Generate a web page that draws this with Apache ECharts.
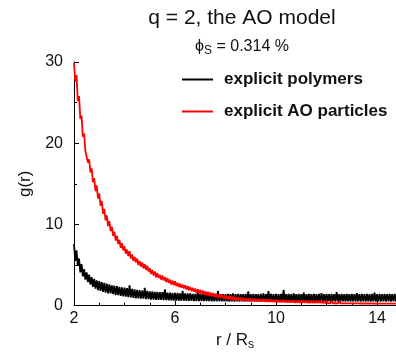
<!DOCTYPE html>
<html>
<head>
<meta charset="utf-8">
<script src="https://cdn.jsdelivr.net/npm/echarts@6/dist/echarts.min.js"></script>
<style>
    html, body { margin: 0; padding: 0; background: #fff; }
    #chart { width: 396px; height: 356px; }
</style>
</head>
<body>
<div id="chart"></div>
<script>
// r / R_s, step 0.05 from 2.00 to 14.75
let rValues = []
for (let i = 0; i <= 255; i++) {
    rValues.push(+(2 + i * 0.05).toFixed(2))
}

// g(r), explicit polymers (noise included)
let gPolymers = [
    7.6, 5.5, 6.8, 4.9, 5.8, 4.1, 5.1, 3.6, 4.5, 3.2,
    4.1, 2.9, 3.8, 2.6, 3.5, 2.3, 3.3, 2.1, 3.1, 1.9,
    3.0, 1.8, 2.9, 1.7, 2.8, 1.6, 2.7, 1.5, 2.6, 1.5,
    2.5, 1.4, 2.45, 1.3, 2.4, 1.3, 2.3, 1.2, 2.25, 1.15,
    2.2, 1.1, 2.15, 1.05, 2.5, 1.0, 2.05, 0.95, 2.0, 0.9,
    1.95, 0.9, 1.9, 0.85, 1.85, 0.85, 2.2, 0.8, 1.8, 0.8,
    1.75, 0.75, 1.75, 0.75, 1.7, 0.72, 1.7, 0.7, 1.65, 0.7,
    1.65, 0.68, 2.0, 0.68, 1.6, 0.65, 1.6, 0.65, 1.55, 0.62,
    1.55, 0.62, 1.55, 0.6, 1.5, 0.6, 1.8, 0.6, 1.5, 0.58,
    1.5, 0.58, 1.5, 0.58, 1.45, 0.56, 1.45, 0.56, 1.7, 0.56,
    1.45, 0.55, 1.45, 0.55, 1.45, 0.55, 1.4, 0.55, 1.4, 0.54,
    1.4, 0.54, 1.45, 0.52, 1.8, 0.54, 1.4, 0.52, 1.4, 0.53,
    1.4, 0.52, 1.45, 0.5, 1.4, 0.52, 1.5, 0.5, 1.4, 0.52,
    1.45, 0.5, 1.4, 0.52, 1.4, 0.5, 1.45, 0.52, 1.75, 0.5,
    1.4, 0.52, 1.45, 0.5, 1.4, 0.52, 1.4, 0.5, 1.45, 0.52,
    1.5, 0.5, 1.4, 0.52, 1.8, 0.5, 1.45, 0.52, 1.4, 0.5,
    1.45, 0.52, 1.4, 0.5, 1.45, 0.52, 1.95, 0.5, 1.4, 0.52,
    1.45, 0.5, 1.4, 0.52, 1.5, 0.5, 1.4, 0.52, 1.45, 0.5,
    1.4, 0.52, 1.6, 0.5, 1.4, 0.52, 1.45, 0.5, 1.4, 0.52,
    1.45, 0.5, 1.4, 0.52, 1.45, 0.5, 1.55, 0.52, 1.4, 0.5,
    1.45, 0.52, 1.4, 0.5, 1.45, 0.52, 1.4, 0.5, 1.65, 0.52,
    1.4, 0.5, 1.45, 0.52, 1.4, 0.5, 1.45, 0.52, 1.4, 0.5,
    1.45, 0.52, 1.4, 0.5, 1.55, 0.52, 1.4, 0.5, 1.45, 0.52,
    1.4, 0.5, 1.45, 0.52, 1.4, 0.5, 1.45, 0.52, 1.6, 0.5,
    1.4, 0.52, 1.45, 0.5, 1.4, 0.52, 1.45, 0.5, 1.4, 0.52,
    1.45, 0.5, 1.4, 0.52, 1.45, 0.5
]

// g(r), explicit AO particles
let gAO = [
    29.9, 27.6, 28.4, 25.2, 25.8, 23.0, 23.4, 20.8, 21.2, 19.1,
    19.3, 17.6, 18.0, 16.4, 16.9, 15.2, 15.7, 14.1, 14.8, 13.2,
    13.8, 12.3, 12.9, 11.3, 11.9, 10.5, 11.1, 9.8, 10.4, 9.2,
    9.7, 8.6, 9.1, 8.0, 8.6, 7.6, 8.1, 7.1, 7.7, 6.8,
    7.3, 6.4, 6.9, 6.1, 6.7, 5.8, 6.3, 5.5, 6.0, 5.3,
    5.8, 5.0, 5.5, 4.8, 5.3, 4.6, 5.1, 4.4, 4.9, 4.2,
    4.6, 3.9, 4.4, 3.7, 4.2, 3.5, 4.0, 3.4, 3.8, 3.2,
    3.7, 3.1, 3.5, 2.9, 3.4, 2.8, 3.2, 2.6, 3.1, 2.5,
    3.0, 2.4, 2.8, 2.3, 2.7, 2.2, 2.6, 2.1, 2.5, 2.0,
    2.4, 1.9, 2.3, 1.8, 2.2, 1.7, 2.1, 1.6, 2.0, 1.5,
    1.95, 1.45, 1.85, 1.35, 1.75, 1.25, 1.7, 1.2, 1.6, 1.15,
    1.55, 1.1, 1.45, 1.0, 1.4, 0.95, 1.35, 0.9, 1.3, 0.85,
    1.25, 0.8, 1.2, 0.75, 1.15, 0.7, 1.1, 0.7, 1.05, 0.65,
    1.0, 0.65, 0.98, 0.62, 0.95, 0.6, 0.92, 0.58, 0.9, 0.57,
    0.88, 0.55, 0.86, 0.54, 0.84, 0.52, 0.82, 0.5, 0.8, 0.5,
    0.78, 0.48, 0.76, 0.47, 0.74, 0.46, 0.72, 0.45, 0.7, 0.44,
    0.69, 0.42, 0.68, 0.41, 0.67, 0.4, 0.66, 0.4, 0.65, 0.39,
    0.64, 0.38, 0.63, 0.37, 0.62, 0.36, 0.62, 0.36, 0.61, 0.35,
    0.6, 0.34, 0.6, 0.34, 0.59, 0.33, 0.58, 0.33, 0.58, 0.32,
    0.57, 0.32, 0.57, 0.31, 0.56, 0.31, 0.56, 0.3, 0.55, 0.3,
    0.55, 0.3, 0.54, 0.29, 0.54, 0.29, 0.53, 0.29, 0.53, 0.28,
    0.53, 0.28, 0.52, 0.28, 0.52, 0.28, 0.52, 0.27, 0.51, 0.27,
    0.51, 0.27, 0.51, 0.27, 0.5, 0.27, 0.5, 0.26, 0.5, 0.26,
    0.5, 0.26, 0.5, 0.26, 0.49, 0.26, 0.49, 0.26, 0.49, 0.25,
    0.49, 0.25, 0.49, 0.25, 0.48, 0.25, 0.48, 0.25, 0.48, 0.25,
    0.48, 0.25, 0.48, 0.25, 0.48, 0.25
]

let seriesNames = ['explicit polymers', 'explicit AO particles']
let font = 'Liberation Sans, Arial, sans-serif'

function pairs(ys) {
    return rValues.map(function (r, i) { return [r, ys[i]] })
}

let myChart = echarts.init(document.getElementById('chart'))
myChart.setOption({
    animation: false,
    backgroundColor: '#fff',
    title: [
        {
            text: 'q = 2, the AO model',
            left: 237,
            top: 3,
            textAlign: 'center',
            textStyle: { fontFamily: font, fontSize: 21, fontWeight: 'normal', color: '#111' }
        },
        {
            text: '{a|\u03d5}{s|S}{a| = 0.314 %}',
            left: 237,
            top: 31,
            textAlign: 'center',
            textStyle: {
                fontWeight: 'normal',
                rich: {
                    a: { fontFamily: font, fontSize: 16, fontWeight: 'normal', color: '#111' },
                    s: { fontFamily: font, fontSize: 12, fontWeight: 'normal', color: '#111', padding: [9, 0, 0, 0] }
                }
            }
        }
    ],
    legend: {
        data: seriesNames,
        orient: 'vertical',
        left: 182,
        top: 71,
        padding: 0,
        icon: 'rect',
        itemWidth: 31,
        itemHeight: 2,
        itemGap: 15,
        textStyle: { fontFamily: font, fontSize: 17, fontWeight: 'bold', color: '#111', padding: [0, 0, 0, 6] }
    },
    grid: { left: 74, right: 0, top: 62, bottom: 45, containLabel: false },
    xAxis: {
        type: 'value',
        min: 2,
        max: 14.75,
        interval: 4,
        name: '{a|r / R}{s|s}',
        nameLocation: 'middle',
        nameGap: 20,
        nameTextStyle: {
            rich: {
                a: { fontFamily: font, fontSize: 17, color: '#111' },
                s: { fontFamily: font, fontSize: 12, color: '#111', padding: [10, 0, 0, 0] }
            }
        },
        axisLine: { lineStyle: { color: '#000', width: 1 } },
        axisTick: { inside: true, length: 5, lineStyle: { color: '#000' } },
        minorTick: { show: true, splitNumber: 4, length: 3, lineStyle: { color: '#000' } },
        axisLabel: { showMaxLabel: false, fontFamily: font, fontSize: 16, color: '#111', margin: 5 },
        splitLine: { show: false }
    },
    yAxis: {
        type: 'value',
        min: 0,
        max: 30,
        interval: 10,
        name: 'g(r)',
        nameLocation: 'middle',
        nameGap: 40,
        nameTextStyle: { fontFamily: font, fontSize: 17, color: '#111' },
        axisLine: { show: true, lineStyle: { color: '#000', width: 1 } },
        axisTick: { show: true, inside: true, length: 5, lineStyle: { color: '#000' } },
        minorTick: { show: true, splitNumber: 2, length: 3, lineStyle: { color: '#000' } },
        axisLabel: { fontFamily: font, fontSize: 16, color: '#111', margin: 11 },
        splitLine: { show: false }
    },
    series: [
        {
            name: seriesNames[0],
            type: 'line',
            data: pairs(gPolymers),
            symbol: 'none',
            color: '#000',
            lineStyle: { color: '#000', width: 1.8 }
        },
        {
            name: seriesNames[1],
            type: 'line',
            data: pairs(gAO),
            symbol: 'none',
            color: '#ff0000',
            lineStyle: { color: '#ff0000', width: 1.8 }
        }
    ]
})
</script>
</body>
</html>
